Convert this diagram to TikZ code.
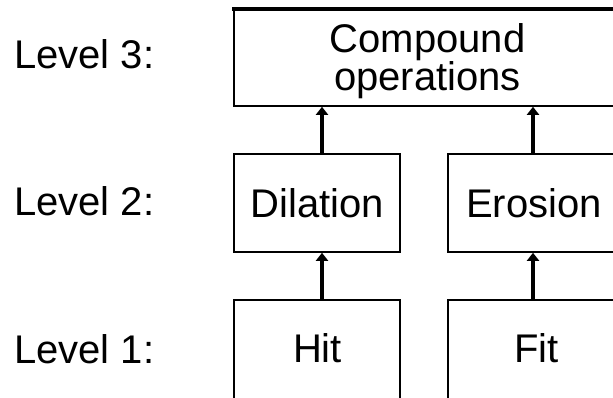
\documentclass[tikz,border=0pt]{standalone}
\usepackage{fontspec}
\setmainfont{Liberation Sans}
\usetikzlibrary{arrows.meta}
\begin{document}
\begin{tikzpicture}[x=1pt,y=-1pt,
  box/.style={draw=black,line width=1.6pt,rectangle,inner sep=0pt},
  txt/.style={inner sep=0pt,anchor=base,font=\fontsize{40}{40}\selectfont},
  lvl/.style={inner sep=0pt,anchor=base west,font=\fontsize{40}{40}\selectfont},
  arr/.style={line width=3.2pt,-{Triangle[width=12pt,length=8pt]}}]
\clip (0,0) rectangle (613,397);
\useasboundingbox (0,0) rectangle (613,397);
\fill[white] (0,0) rectangle (613,397);
% boxes
\node[box,minimum width=387pt,minimum height=96.5pt] (comp) at (427.5,57.75) {};
\draw[line width=4pt] ([xshift=-0.8pt]comp.north west) -- (comp.north east);
\node[box,minimum width=166pt,minimum height=98pt] (dil) at (317,203) {};
\node[box,minimum width=172pt,minimum height=98pt] (ero) at (534,203) {};
\node[box,minimum width=166pt,minimum height=130pt] (hit) at (317,365) {};
\node[box,minimum width=172pt,minimum height=130pt] (fit) at (534,365) {};
% texts
\node[inner sep=0pt,align=center,font=\fontsize{40}{37}\selectfont] (t1) at (427.5,61) {Compound\\operations};
\node[txt] (t3) at (317.5,217) {Dilation};
\node[txt] (t4) at (534,217) {Erosion};
\node[txt] (t5) at (317.5,362) {Hit};
\node[txt] (t6) at (536.5,362) {Fit};
\node[lvl] (l3) at (14,68) {Level 3:};
\node[lvl] (l2) at (14,215) {Level 2:};
\node[lvl] (l1) at (14,363) {Level 1:};
% arrows
\coordinate (xa) at (322,0);
\coordinate (xb) at (533,0);
\draw[arr] (dil.north -| xa) -- (comp.south -| xa);
\draw[arr] (ero.north -| xb) -- (comp.south -| xb);
\draw[arr] (hit.north -| xa) -- (dil.south -| xa);
\draw[arr] (fit.north -| xb) -- (ero.south -| xb);
\end{tikzpicture}
\end{document}
